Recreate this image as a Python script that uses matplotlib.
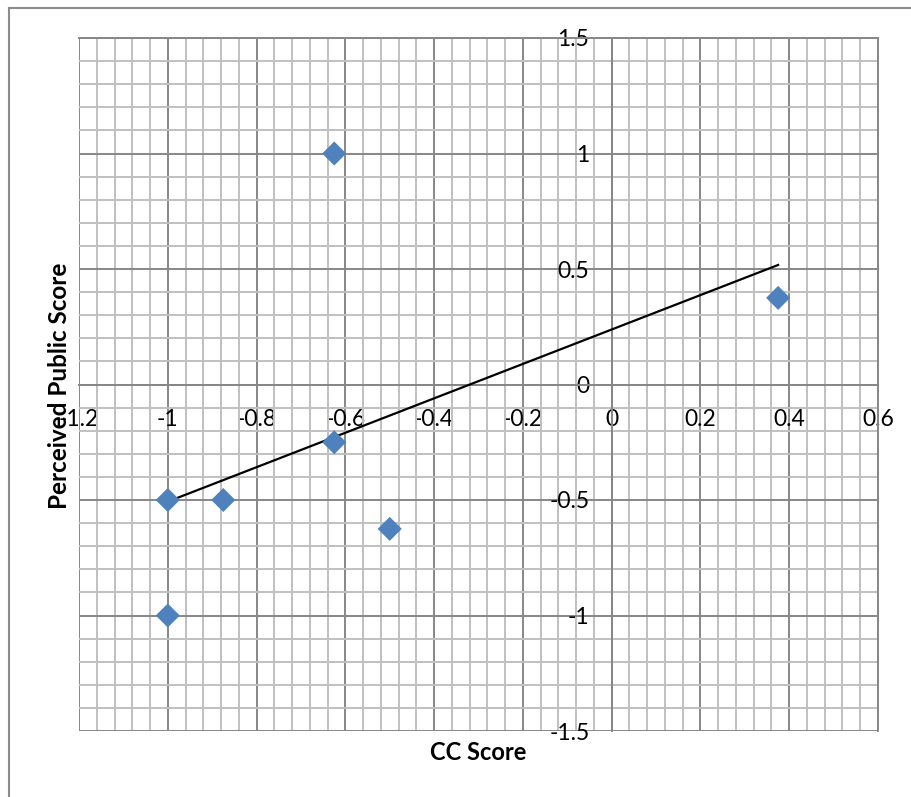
import matplotlib
matplotlib.use("Agg")
import matplotlib.pyplot as plt
from matplotlib.ticker import MultipleLocator, FuncFormatter
from matplotlib.lines import Line2D
import numpy as np

cc_score = [-1.0, -1.0, -0.875, -0.625, -0.625, -0.5, 0.375]
perceived_public = [-0.5, -1.0, -0.5, 1.0, -0.25, -0.625, 0.375]
x_ticks = [-1.2, -1.0, -0.8, -0.6, -0.4, -0.2, 0.0, 0.2, 0.4, 0.6]
y_ticks = [-1.5, -1.0, -0.5, 0.0, 0.5, 1.0, 1.5]

plt.rcParams['font.family'] = ['Lato', 'DejaVu Sans']

W, H = 912, 797
fig = plt.figure(figsize=(W / 100, H / 100), dpi=100)
ax = fig.add_axes([79 / W, (H - 731) / H, 799 / W, 693 / H])

major_c = '#878787'
minor_c = '#c0c0c0'

ax.set_xlim(-1.2, 0.6)
ax.set_ylim(-1.5, 1.5)
ax.set_xticks(x_ticks)
ax.set_yticks(y_ticks)
ax.xaxis.set_minor_locator(MultipleLocator(0.04))
ax.yaxis.set_minor_locator(MultipleLocator(0.1))

def fmt(v, pos):
    s = ('%g' % round(v, 2))
    return '0' if s in ('-0', '0') else s

ax.xaxis.set_major_formatter(FuncFormatter(fmt))
ax.yaxis.set_major_formatter(FuncFormatter(fmt))

ax.grid(which='minor', color=minor_c, linewidth=1.4, zorder=0)
ax.grid(which='major', color=major_c, linewidth=1.4, zorder=0)
ax.set_axisbelow(True)

ax.spines['left'].set_position(('data', 0))
ax.spines['bottom'].set_position(('data', 0))
for s in ax.spines.values():
    s.set_color(major_c)
    s.set_linewidth(1.4)
ax.tick_params(which='both', length=0)
ax.tick_params(axis='x', pad=18, labelsize=16.5)
ax.tick_params(axis='y', pad=16, labelsize=16.5)

# trendline
coef = np.polyfit(cc_score, perceived_public, 1)
xs = np.array([min(cc_score), max(cc_score)])
ax.plot(xs, np.polyval(coef, xs), color='black', linewidth=1.6, zorder=3)

ax.scatter(cc_score, perceived_public, marker='D', s=150, color='#4f81bd',
           edgecolors='none', zorder=4)

fig.text(478 / W, 1 - 753 / H, 'CC Score', ha='center', va='center',
         fontsize=17, fontweight='bold')
fig.text(60 / W, 1 - 386 / H, 'Perceived Public Score', ha='center', va='center',
         rotation=90, fontsize=17.5, fontweight='bold')

# outer border (left and top visible)
fig.add_artist(Line2D([9 / W, 9 / W], [0, 1 - 8 / H], transform=fig.transFigure,
                      color='#8c8c8c', linewidth=1.5))
fig.add_artist(Line2D([9 / W, 1], [1 - 8 / H, 1 - 8 / H], transform=fig.transFigure,
                      color='#8c8c8c', linewidth=1.5))

fig.savefig('out.png', dpi=100)
